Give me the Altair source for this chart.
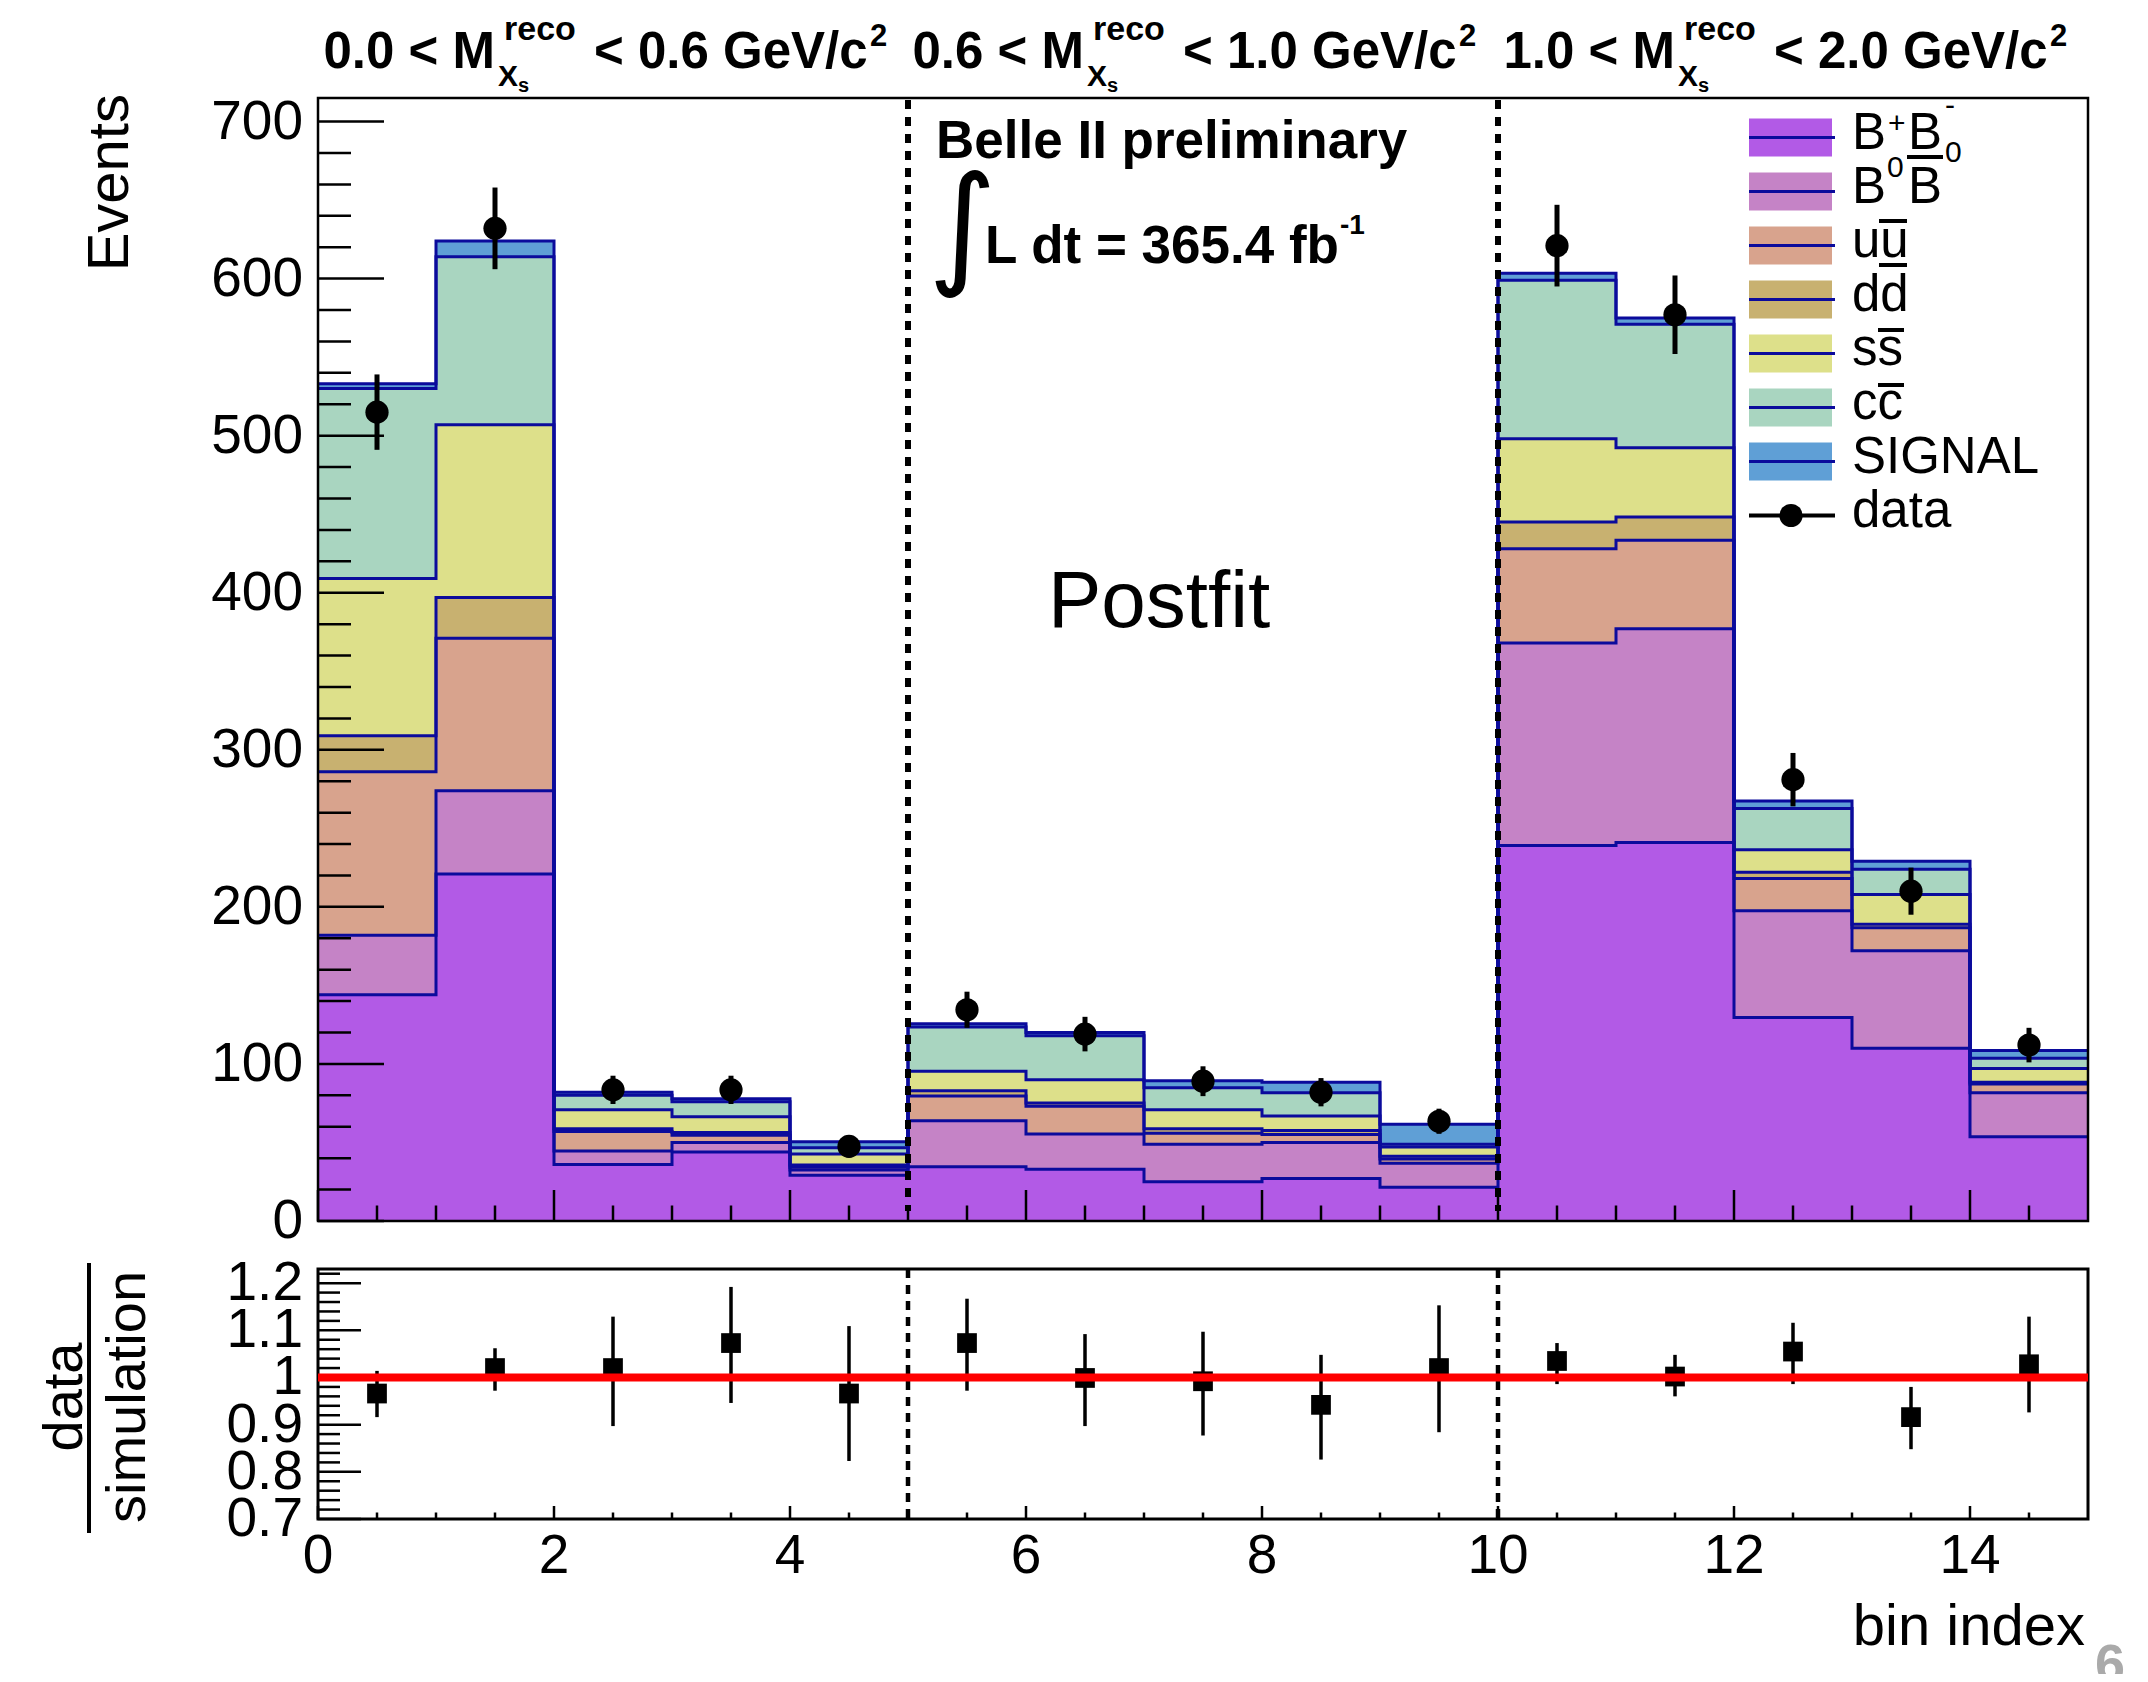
import altair as alt
import numpy as np
import pandas as pd

FONT = "Liberation Sans"

# ---------------- data ----------------
bins = list(range(15))
comp_names = ["B+B-", "B0B0bar", "uubar", "ddbar", "ssbar", "ccbar", "SIGNAL"]
comp_colors = ["#b25ae6", "#c583c6", "#d8a38d", "#c8b170", "#dde08a", "#a9d5c0", "#5f9fd6"]

bpbm   = [144, 221, 36, 44, 29.2, 34.6, 33, 25, 27, 21.5, 239, 241, 129.5, 110, 53.7]
b0b0   = [38, 53, 8.5, 6, 3.2, 29.2, 22.4, 23.9, 23, 15.3, 129, 136, 68, 62, 28]
uubar  = [104, 97, 12.5, 4.6, 1.8, 15.8, 17.6, 7, 5, 2.7, 60, 56.5, 20.6, 14.7, 5.6]
ddbar  = [23, 26, 1.8, 1.7, 1.5, 3.3, 2.2, 2.8, 2.7, 1.7, 17, 14.8, 3.9, 2.2, 1.1]
ssbar  = [100, 110, 12, 10.1, 7, 12.5, 14.7, 12.2, 9.1, 5.9, 53, 44, 14.3, 19, 8.7]
ccbar  = [121, 107, 9.2, 9.6, 3.9, 28.1, 28.1, 14, 14.9, 1.8, 101, 78.7, 26.3, 16.1, 6.6]
signal = [3, 10, 2, 1.8, 3.8, 2.1, 2, 4.4, 6.7, 12.7, 4.5, 4, 4.8, 5, 4.8]

data_vals = [515, 632, 83.5, 83.5, 47.5, 134.5, 119, 89, 82, 63.5, 621, 577, 281, 210, 112]
data_err = [24, 26, 9, 9, 7, 11.5, 11, 9.5, 9, 8, 26, 25, 17, 15, 11]

ratio_vals = [0.966, 1.020, 1.020, 1.073, 0.966, 1.073, 0.999, 0.992, 0.942, 1.020,
              1.035, 1.002, 1.055, 0.916, 1.028]
ratio_lo = [0.916, 0.972, 0.897, 0.946, 0.823, 0.972, 0.897, 0.877, 0.826, 0.884,
            0.986, 0.960, 0.986, 0.848, 0.926]
ratio_hi = [1.014, 1.062, 1.129, 1.192, 1.109, 1.167, 1.092, 1.097, 1.048, 1.153,
            1.073, 1.048, 1.116, 0.980, 1.129]

separators = [5, 10]
main_y_labels = [0, 100, 200, 300, 400, 500, 600, 700]
ratio_y_labels = ["0.7", "0.8", "0.9", "1", "1.1", "1.2"]
x_labels = [0, 2, 4, 6, 8, 10, 12, 14]

# ---------------- layout constants ----------------
W = 1770
MAIN_H = 1123
R_TOP = 1171
R_BOT = 1421
H = R_BOT
LINE_BLUE = "#0b0b9c"

xsc = alt.Scale(domain=[0, 15], range=[0, W], nice=False, zero=False)
ysc = alt.Scale(domain=[0, 715], range=[MAIN_H, 0], nice=False, zero=False)
rsc = alt.Scale(domain=[0.7, 1.23], range=[R_BOT, R_TOP], nice=False, zero=False)

one = pd.DataFrame({"a": [0]})

# ---------------- stacked histogram ----------------
rows = []
cum = np.zeros(15)
for name, vals in zip(comp_names, [bpbm, b0b0, uubar, ddbar, ssbar, ccbar, signal]):
    lo = cum.copy()
    hi = cum + np.array(vals, dtype=float)
    for i in range(16):
        j = min(i, 14)
        rows.append({"comp": name, "x": i, "lo": lo[j], "hi": hi[j]})
    cum = hi
area_df = pd.DataFrame(rows)

areas = alt.Chart(area_df).mark_area(interpolate="step-after").encode(
    x=alt.X("x:Q", scale=xsc, axis=None),
    y=alt.Y("hi:Q", scale=ysc, axis=None, stack=None),
    y2="lo:Q",
    color=alt.Color("comp:N", scale=alt.Scale(domain=comp_names, range=comp_colors), legend=None),
)
outlines = alt.Chart(area_df).mark_line(interpolate="step-after", color=LINE_BLUE, strokeWidth=3).encode(
    x=alt.X("x:Q", scale=xsc, axis=None),
    y=alt.Y("hi:Q", scale=ysc, axis=None),
    detail="comp:N",
)

sep_df = pd.DataFrame({"v": separators})
dots = alt.Chart(sep_df).mark_rule(color="black", strokeWidth=6, strokeDash=[9, 8]).encode(
    x=alt.X("v:Q", scale=xsc, axis=None), y=alt.value(2), y2=alt.value(MAIN_H - 10))

# ticks (inside the frame, ROOT style)
def hrules(vals, scale, x2):
    return alt.Chart(pd.DataFrame({"v": vals})).mark_rule(color="black", strokeWidth=2.5).encode(
        y=alt.Y("v:Q", scale=scale, axis=None), x=alt.value(0), x2=alt.value(x2))

def vrules(vals, ybot, length, width=2.5):
    return alt.Chart(pd.DataFrame({"v": vals})).mark_rule(color="black", strokeWidth=width).encode(
        x=alt.X("v:Q", scale=xsc, axis=None), y=alt.value(ybot - length), y2=alt.value(ybot))

y_major = main_y_labels
y_minor = [v for v in range(0, 716, 20) if v % 100 != 0]
x_major = [v for v in range(0, 15, 2)]
x_minor = [v / 2 for v in range(1, 30) if (v / 2) % 2 != 0]
r_major = [0.7, 0.8, 0.9, 1.0, 1.1, 1.2]
r_minor = [round(0.7 + 0.02 * k, 2) for k in range(1, 27)]
r_minor = [v for v in r_minor if round(v * 10, 6) != round(v * 10)]

ticks = [
    hrules(y_major, ysc, 66), hrules(y_minor, ysc, 33),
    vrules(x_major, MAIN_H, 31), vrules(x_minor, MAIN_H, 15.5),
    hrules(r_major, rsc, 43), hrules(r_minor, rsc, 22),
    vrules(x_major, R_BOT, 13), vrules(x_minor, R_BOT, 6.5),
]

frame_main = alt.Chart(one).mark_rect(fill="transparent", stroke="black", strokeWidth=2.5).encode(
    x=alt.value(0), x2=alt.value(W), y=alt.value(0), y2=alt.value(MAIN_H))
frame_ratio = alt.Chart(one).mark_rect(fill="transparent", stroke="black", strokeWidth=3).encode(
    x=alt.value(0), x2=alt.value(W), y=alt.value(R_TOP), y2=alt.value(R_BOT))

# data points
ddf = pd.DataFrame({
    "xc": [b + 0.5 for b in bins],
    "v": data_vals,
    "lo": [v - e for v, e in zip(data_vals, data_err)],
    "hi": [v + e for v, e in zip(data_vals, data_err)],
})
derr = alt.Chart(ddf).mark_rule(color="black", strokeWidth=5).encode(
    x=alt.X("xc:Q", scale=xsc, axis=None), y=alt.Y("lo:Q", scale=ysc, axis=None), y2="hi:Q")
dpts = alt.Chart(ddf).mark_point(filled=True, shape="circle", size=540, color="black", opacity=1).encode(
    x=alt.X("xc:Q", scale=xsc, axis=None), y=alt.Y("v:Q", scale=ysc, axis=None))

# ratio panel
rdf = pd.DataFrame({"xc": [b + 0.5 for b in bins], "r": ratio_vals, "lo": ratio_lo, "hi": ratio_hi})
rerr = alt.Chart(rdf).mark_rule(color="black", strokeWidth=3.5).encode(
    x=alt.X("xc:Q", scale=xsc, axis=None), y=alt.Y("lo:Q", scale=rsc, axis=None), y2="hi:Q")
rpts = alt.Chart(rdf).mark_point(filled=True, shape="square", size=390, color="black", opacity=1).encode(
    x=alt.X("xc:Q", scale=xsc, axis=None), y=alt.Y("r:Q", scale=rsc, axis=None))
rdash = alt.Chart(sep_df).mark_rule(color="black", strokeWidth=4.5, strokeDash=[9, 7]).encode(
    x=alt.X("v:Q", scale=xsc, axis=None), y=alt.value(R_TOP), y2=alt.value(R_BOT))
redline = alt.Chart(pd.DataFrame({"v": [1.0]})).mark_rule(color="#ff0000", strokeWidth=8).encode(
    y=alt.Y("v:Q", scale=rsc, axis=None), x=alt.value(0), x2=alt.value(W))

# axis labels
ylab = alt.Chart(pd.DataFrame({"v": main_y_labels, "t": [str(v) for v in main_y_labels]})).mark_text(
    align="right", baseline="middle", font=FONT, fontSize=55).encode(
    y=alt.Y("v:Q", scale=ysc, axis=None), x=alt.value(-15), text="t:N")
rlab = alt.Chart(pd.DataFrame({"v": r_major, "t": ratio_y_labels})).mark_text(
    align="right", baseline="middle", font=FONT, fontSize=55).encode(
    y=alt.Y("v:Q", scale=rsc, axis=None), x=alt.value(-15), text="t:N")
xlab = alt.Chart(pd.DataFrame({"v": x_labels, "t": [str(v) for v in x_labels]})).mark_text(
    align="center", baseline="alphabetic", font=FONT, fontSize=55).encode(
    x=alt.X("v:Q", scale=xsc, axis=None), y=alt.value(1475), text="t:N")


def pieces(rows, align="left", weight="normal", baseline="alphabetic", color="black", font=FONT, angle=0):
    df = pd.DataFrame(rows, columns=["px", "py", "t", "fs"])
    return alt.Chart(df).mark_text(align=align, baseline=baseline, fontWeight=weight, color=color,
                                   font=font, angle=angle).encode(
        x=alt.X("px:Q", scale=None, axis=None),
        y=alt.Y("py:Q", scale=None, axis=None),
        text="t:N",
        size=alt.Size("fs:Q", scale=None, legend=None),
    )


# top titles: "lo < M^reco_Xs < hi GeV/c^2"
title_ranges = [("0.0", "0.6"), ("0.6", "1.0"), ("1.0", "2.0")]
m_ends = [177, 766, 1357]
segA, boldL = [], []
for (lo_s, hi_s), me in zip(title_ranges, m_ends):
    segA.append([me, -30, f"{lo_s} < M", 51])
    boldL += [
        [me + 9, -58, "reco", 34],
        [me + 3, -12, "X", 30],
        [me + 23, -6, "s", 20],
        [me + 99, -30, f"< {hi_s} GeV/c", 51],
        [me + 375, -52, "2", 31],
    ]
boldL += [
    [618, 60, "Belle II preliminary", 53],
    [667, 165, "L dt = 365.4 fb", 53],
    [1022, 136, "-1", 28],
]

# legend
leg_cy = [39.5 + 54 * i for i in range(8)]
leg_df = pd.DataFrame({
    "y0": [c - 19 for c in leg_cy[:7]],
    "y1": [c + 19 for c in leg_cy[:7]],
    "cy": leg_cy[:7],
    "col": comp_colors,
})
leg_sw = alt.Chart(leg_df).mark_rect().encode(
    x=alt.value(1431), x2=alt.value(1514),
    y=alt.Y("y0:Q", scale=None, axis=None), y2="y1:Q",
    color=alt.Color("col:N", scale=None, legend=None))
leg_ln = alt.Chart(leg_df).mark_rule(color=LINE_BLUE, strokeWidth=3).encode(
    x=alt.value(1431), x2=alt.value(1517), y=alt.Y("cy:Q", scale=None, axis=None))
leg_data_ln = alt.Chart(one).mark_rule(color="black", strokeWidth=4).encode(
    x=alt.value(1431), x2=alt.value(1517), y=alt.value(leg_cy[7]))
leg_data_pt = alt.Chart(one).mark_point(filled=True, shape="circle", size=540, color="black", opacity=1).encode(
    x=alt.value(1473), y=alt.value(leg_cy[7]))

tb = [c + 11 for c in leg_cy]
regL = [
    [1534, tb[0], "B", 51], [1570, 35, "+", 30], [1590, tb[0], "B", 51], [1627, 17, "-", 30],
    [1534, tb[1], "B", 51], [1569, 79, "0", 30], [1590, tb[1], "B", 51], [1627, 64, "0", 30],
    [1534, tb[2], "uu", 51],
    [1534, tb[3], "dd", 51],
    [1534, tb[4], "ss", 51],
    [1534, tb[5], "cc", 51],
    [1534, tb[6], "SIGNAL", 51],
    [1534, tb[7], "data", 51],
    [730, 529, "Postfit", 80],
]
bars = pd.DataFrame({
    "x0": [1589, 1561, 1561, 1560, 1560],
    "x1": [1625, 1589, 1589, 1586, 1586],
    "y": [59, 123, 167, 232, 287],
})
overbars = alt.Chart(bars).mark_rule(color="black", strokeWidth=4).encode(
    x=alt.X("x0:Q", scale=None, axis=None), x2="x1:Q", y=alt.Y("y:Q", scale=None, axis=None))

integral = pieces([[610, 172, "\u222b", 132]], font="DejaVu Sans")

# axis titles
events_t = pieces([[-190, -4, "Events", 58]], align="right", angle=270)
frac_t = pieces([[-236, 1299, "data", 56], [-173, 1299, "simulation", 56]], align="center", angle=270)
frac_bar = alt.Chart(one).mark_rule(color="black", strokeWidth=4).encode(
    x=alt.value(-229), y=alt.value(1165), y2=alt.value(1435))
binidx = pieces([[1767, 1547, "bin index", 58]], align="right")
pagenum = pieces([[1777, 1584, "6", 54]], weight="bold", color="#aaaaaa")

layers = [
    areas, outlines, dots, rdash, *ticks, frame_main, frame_ratio,
    derr, dpts, rerr, rpts, redline,
    ylab, rlab, xlab,
    pieces(segA, align="right", weight="bold"),
    pieces(boldL, weight="bold"),
    integral,
    leg_sw, leg_ln, leg_data_ln, leg_data_pt,
    pieces(regL), overbars,
    events_t, frac_t, frac_bar, binidx, pagenum,
]

chart = alt.layer(*layers).resolve_scale(
    y="independent", color="independent", size="independent"
).properties(
    width=W, height=H,
    padding={"left": 310, "top": 90, "right": 52, "bottom": 155},
    autosize=alt.AutoSizeParams(type="none"),
).configure_view(stroke=None)

chart.save("out.html", embed_options={"renderer": "svg", "actions": False})
